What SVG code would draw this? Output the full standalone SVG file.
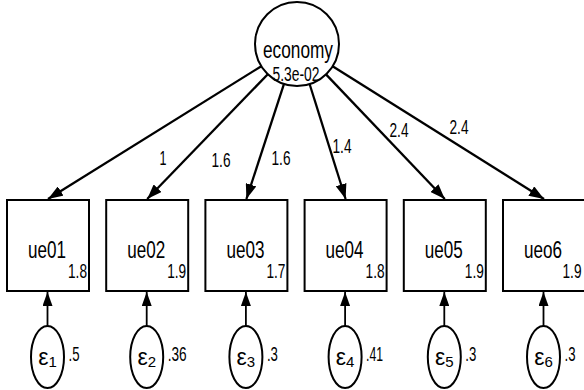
<svg xmlns="http://www.w3.org/2000/svg" width="584" height="390" viewBox="0 0 584 390">
<style>
  text { font-family: "Liberation Sans", Arial, sans-serif; fill: #000; }
  .name { font-size: 23px; text-anchor: middle; }
  .val { font-size: 21px; text-anchor: end; }
  .lab { font-size: 20px; text-anchor: middle; }
  .ev { font-size: 21px; text-anchor: start; }
  .eps { font-size: 23px; text-anchor: middle; }
  .sub { font-size: 15px; }
  .box { fill: #fff; stroke: #000; stroke-width: 2; }
  .ell { fill: #fff; stroke: #000; stroke-width: 2; }
  .path { stroke: #000; stroke-width: 2.3; fill: none; marker-end: url(#ah); }
  .epath { stroke: #000; stroke-width: 1.8; fill: none; marker-end: url(#ah2); }
</style>
<defs>
  <marker id="ah" markerUnits="userSpaceOnUse" viewBox="0 0 15 11" markerWidth="15" markerHeight="11" refX="15" refY="5.5" orient="auto">
    <path d="M0,0 L15,5.5 L0,11 z" fill="#000"/>
  </marker>
  <marker id="ah2" markerUnits="userSpaceOnUse" viewBox="0 0 14 10" markerWidth="14" markerHeight="10" refX="14" refY="5" orient="auto">
    <path d="M0,0 L14,5 L0,10 z" fill="#000"/>
  </marker>
</defs>
<rect width="584" height="390" fill="#fff"/>

<g id="connectors">
  <line class="path" x1="261.3" y1="66.2" x2="48" y2="199"/>
  <line class="path" x1="267.8" y1="74.2" x2="147.2" y2="199"/>
  <line class="path" x1="284" y1="83.9" x2="246.4" y2="199"/>
  <line class="path" x1="309.6" y1="84" x2="345.6" y2="199"/>
  <line class="path" x1="326" y1="74.4" x2="444.8" y2="199"/>
  <line class="path" x1="332.6" y1="66.3" x2="544" y2="199"/>
  <line class="epath" x1="47.5" y1="326" x2="47.5" y2="292"/>
  <line class="epath" x1="146.7" y1="326" x2="146.7" y2="292"/>
  <line class="epath" x1="245.9" y1="326" x2="245.9" y2="292"/>
  <line class="epath" x1="345.1" y1="326" x2="345.1" y2="292"/>
  <line class="epath" x1="444.3" y1="326" x2="444.3" y2="292"/>
  <line class="epath" x1="543.5" y1="326" x2="543.5" y2="292"/>
  <text class="lab" x="163" y="165" textLength="7" lengthAdjust="spacingAndGlyphs">1</text>
  <text class="lab" x="221" y="167" textLength="19" lengthAdjust="spacingAndGlyphs">1.6</text>
  <text class="lab" x="281" y="165" textLength="19" lengthAdjust="spacingAndGlyphs">1.6</text>
  <text class="lab" x="342" y="153" textLength="19" lengthAdjust="spacingAndGlyphs">1.4</text>
  <text class="lab" x="399" y="137" textLength="19" lengthAdjust="spacingAndGlyphs">2.4</text>
  <text class="lab" x="459" y="134" textLength="19" lengthAdjust="spacingAndGlyphs">2.4</text>
</g>

<g id="economy">
  <circle cx="297" cy="44" r="42" fill="#fff" stroke="#000" stroke-width="2"/>
  <text class="name" x="298" y="58" textLength="70" lengthAdjust="spacingAndGlyphs">economy</text>
  <text class="lab" x="296" y="81" font-size="19" textLength="47" lengthAdjust="spacingAndGlyphs">5.3e-02</text>
</g>

<g id="ue01">
  <rect class="box" x="7" y="200" width="82" height="91"/>
  <text class="name" x="47" y="258" textLength="38" lengthAdjust="spacingAndGlyphs">ue01</text>
  <text class="val" x="87" y="278" textLength="19" lengthAdjust="spacingAndGlyphs">1.8</text>
</g>
<g id="ue02">
  <rect class="box" x="106.2" y="200" width="82" height="91"/>
  <text class="name" x="146.2" y="258" textLength="38" lengthAdjust="spacingAndGlyphs">ue02</text>
  <text class="val" x="186.2" y="278" textLength="19" lengthAdjust="spacingAndGlyphs">1.9</text>
</g>
<g id="ue03">
  <rect class="box" x="205.4" y="200" width="82" height="91"/>
  <text class="name" x="245.4" y="258" textLength="38" lengthAdjust="spacingAndGlyphs">ue03</text>
  <text class="val" x="285.4" y="278" textLength="19" lengthAdjust="spacingAndGlyphs">1.7</text>
</g>
<g id="ue04">
  <rect class="box" x="304.6" y="200" width="82" height="91"/>
  <text class="name" x="344.6" y="258" textLength="38" lengthAdjust="spacingAndGlyphs">ue04</text>
  <text class="val" x="384.6" y="278" textLength="19" lengthAdjust="spacingAndGlyphs">1.8</text>
</g>
<g id="ue05">
  <rect class="box" x="403.8" y="200" width="82" height="91"/>
  <text class="name" x="443.8" y="258" textLength="38" lengthAdjust="spacingAndGlyphs">ue05</text>
  <text class="val" x="483.8" y="278" textLength="19" lengthAdjust="spacingAndGlyphs">1.9</text>
</g>
<g id="ueo6">
  <rect class="box" x="503" y="200" width="82" height="91"/>
  <text class="name" x="543" y="258" textLength="38" lengthAdjust="spacingAndGlyphs">ueo6</text>
  <text class="val" x="581.5" y="278" textLength="19" lengthAdjust="spacingAndGlyphs">1.9</text>
</g>

<g id="e1">
  <ellipse class="ell" cx="47.5" cy="357" rx="16.5" ry="31"/>
  <text class="eps" x="47.5" y="365">ε<tspan class="sub" dy="2">1</tspan></text>
  <text class="ev" x="68.5" y="361" textLength="11" lengthAdjust="spacingAndGlyphs">.5</text>
</g>
<g id="e2">
  <ellipse class="ell" cx="146.7" cy="357" rx="16.5" ry="31"/>
  <text class="eps" x="146.7" y="365">ε<tspan class="sub" dy="2">2</tspan></text>
  <text class="ev" x="167.7" y="361" textLength="19" lengthAdjust="spacingAndGlyphs">.36</text>
</g>
<g id="e3">
  <ellipse class="ell" cx="245.9" cy="357" rx="16.5" ry="31"/>
  <text class="eps" x="245.9" y="365">ε<tspan class="sub" dy="2">3</tspan></text>
  <text class="ev" x="266.9" y="361" textLength="11" lengthAdjust="spacingAndGlyphs">.3</text>
</g>
<g id="e4">
  <ellipse class="ell" cx="345.1" cy="357" rx="16.5" ry="31"/>
  <text class="eps" x="345.1" y="365">ε<tspan class="sub" dy="2">4</tspan></text>
  <text class="ev" x="366.1" y="361" textLength="17" lengthAdjust="spacingAndGlyphs">.41</text>
</g>
<g id="e5">
  <ellipse class="ell" cx="444.3" cy="357" rx="16.5" ry="31"/>
  <text class="eps" x="444.3" y="365">ε<tspan class="sub" dy="2">5</tspan></text>
  <text class="ev" x="465.3" y="361" textLength="11" lengthAdjust="spacingAndGlyphs">.3</text>
</g>
<g id="e6">
  <ellipse class="ell" cx="543.5" cy="357" rx="16.5" ry="31"/>
  <text class="eps" x="543.5" y="365">ε<tspan class="sub" dy="2">6</tspan></text>
  <text class="ev" x="564.5" y="361" textLength="11" lengthAdjust="spacingAndGlyphs">.3</text>
</g>
</svg>
